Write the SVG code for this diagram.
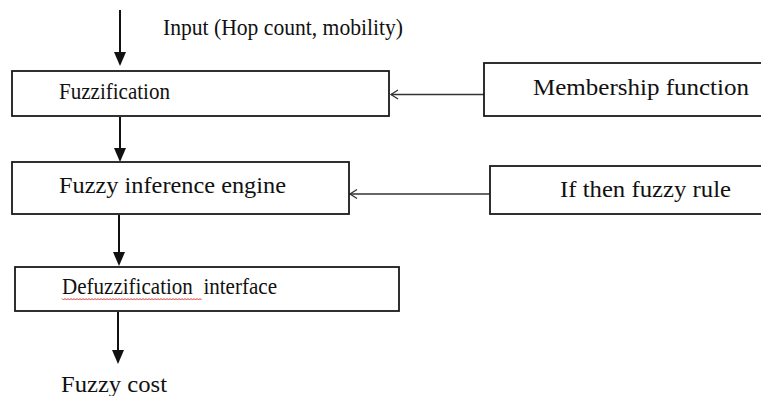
<svg xmlns="http://www.w3.org/2000/svg" width="761" height="396" viewBox="0 0 761 396">
<style>
.box{fill:#fff;stroke:#1a1a1a;stroke-width:1.8}
.t{font-family:'Liberation Serif','Times New Roman',Tinos,'DejaVu Serif',serif;font-size:24px;fill:#111}
.ln{stroke:#111;stroke-width:2;fill:none}
.thin{stroke:#333;stroke-width:1.3;fill:none}
.head{fill:#111}
</style>
<rect width="761" height="396" fill="#fff"/>
<g id="connectors">
<line class="ln" x1="120" y1="10" x2="120" y2="54"/>
<polygon class="head" points="114,52 126,52 120,66"/>
<line class="ln" x1="120" y1="117" x2="120" y2="150"/>
<polygon class="head" points="114,148 126,148 120,162"/>
<line class="ln" x1="119" y1="215" x2="119" y2="254"/>
<polygon class="head" points="113,252 125,252 119,266"/>
<line class="ln" x1="118" y1="312" x2="118" y2="352"/>
<polygon class="head" points="112,350 124,350 118,364"/>
<line class="thin" x1="484" y1="94.5" x2="391" y2="94.5"/>
<polyline class="thin" points="398,90 391,94.5 398,99"/>
<line class="thin" x1="490" y1="194" x2="350" y2="194"/>
<polyline class="thin" points="357,189.5 350,194 357,198.5"/>
</g>
<g id="input-label">
<text class="t" x="163" y="35" font-size="22" textLength="240" lengthAdjust="spacingAndGlyphs">Input (Hop count, mobility)</text>
</g>
<g id="fuzzification">
<rect class="box" x="12" y="71" width="377" height="45"/>
<text class="t" x="59" y="99" font-size="25" textLength="111" lengthAdjust="spacingAndGlyphs">Fuzzification</text>
</g>
<g id="membership">
<rect class="box" x="484" y="63" width="290" height="53"/>
<text class="t" x="533" y="95" font-size="25" textLength="216" lengthAdjust="spacingAndGlyphs">Membership function</text>
</g>
<g id="inference">
<rect class="box" x="12" y="162" width="337" height="52"/>
<text class="t" x="59" y="193" font-size="24.5" textLength="227" lengthAdjust="spacingAndGlyphs">Fuzzy inference engine</text>
</g>
<g id="rules">
<rect class="box" x="490" y="166" width="284" height="48"/>
<text class="t" x="560" y="197" font-size="24.5" textLength="171" lengthAdjust="spacingAndGlyphs">If then fuzzy rule</text>
</g>
<g id="defuzzification">
<rect class="box" x="15" y="267" width="384" height="44"/>
<text class="t" x="62" y="294" font-size="25" textLength="215" lengthAdjust="spacingAndGlyphs" xml:space="preserve">Defuzzification  interface</text>
<path d="M62,298.5 l1.5,1.5 l1.5,-1.5 l1.5,1.5 l1.5,-1.5 l1.5,1.5 l1.5,-1.5 l1.5,1.5 l1.5,-1.5 l1.5,1.5 l1.5,-1.5 l1.5,1.5 l1.5,-1.5 l1.5,1.5 l1.5,-1.5 l1.5,1.5 l1.5,-1.5 l1.5,1.5 l1.5,-1.5 l1.5,1.5 l1.5,-1.5 l1.5,1.5 l1.5,-1.5 l1.5,1.5 l1.5,-1.5 l1.5,1.5 l1.5,-1.5 l1.5,1.5 l1.5,-1.5 l1.5,1.5 l1.5,-1.5 l1.5,1.5 l1.5,-1.5 l1.5,1.5 l1.5,-1.5 l1.5,1.5 l1.5,-1.5 l1.5,1.5 l1.5,-1.5 l1.5,1.5 l1.5,-1.5 l1.5,1.5 l1.5,-1.5 l1.5,1.5 l1.5,-1.5 l1.5,1.5 l1.5,-1.5 l1.5,1.5 l1.5,-1.5 l1.5,1.5 l1.5,-1.5 l1.5,1.5 l1.5,-1.5 l1.5,1.5 l1.5,-1.5 l1.5,1.5 l1.5,-1.5 l1.5,1.5 l1.5,-1.5 l1.5,1.5 l1.5,-1.5 l1.5,1.5 l1.5,-1.5 l1.5,1.5 l1.5,-1.5 l1.5,1.5 l1.5,-1.5 l1.5,1.5 l1.5,-1.5 l1.5,1.5 l1.5,-1.5 l1.5,1.5 l1.5,-1.5 l1.5,1.5 l1.5,-1.5 l1.5,1.5 l1.5,-1.5 l1.5,1.5 l1.5,-1.5 l1.5,1.5 l1.5,-1.5 l1.5,1.5 l1.5,-1.5 l1.5,1.5 l1.5,-1.5 l1.5,1.5 l1.5,-1.5 l1.5,1.5 l1.5,-1.5 l1.5,1.5 l1.5,-1.5 l1.5,1.5 l1.5,-1.5 l1.5,1.5" fill="none" stroke="#e02020" stroke-width="0.9"/>
</g>
<g id="output-label">
<text class="t" x="61" y="392" font-size="24" textLength="106" lengthAdjust="spacingAndGlyphs">Fuzzy cost</text>
</g>
</svg>
